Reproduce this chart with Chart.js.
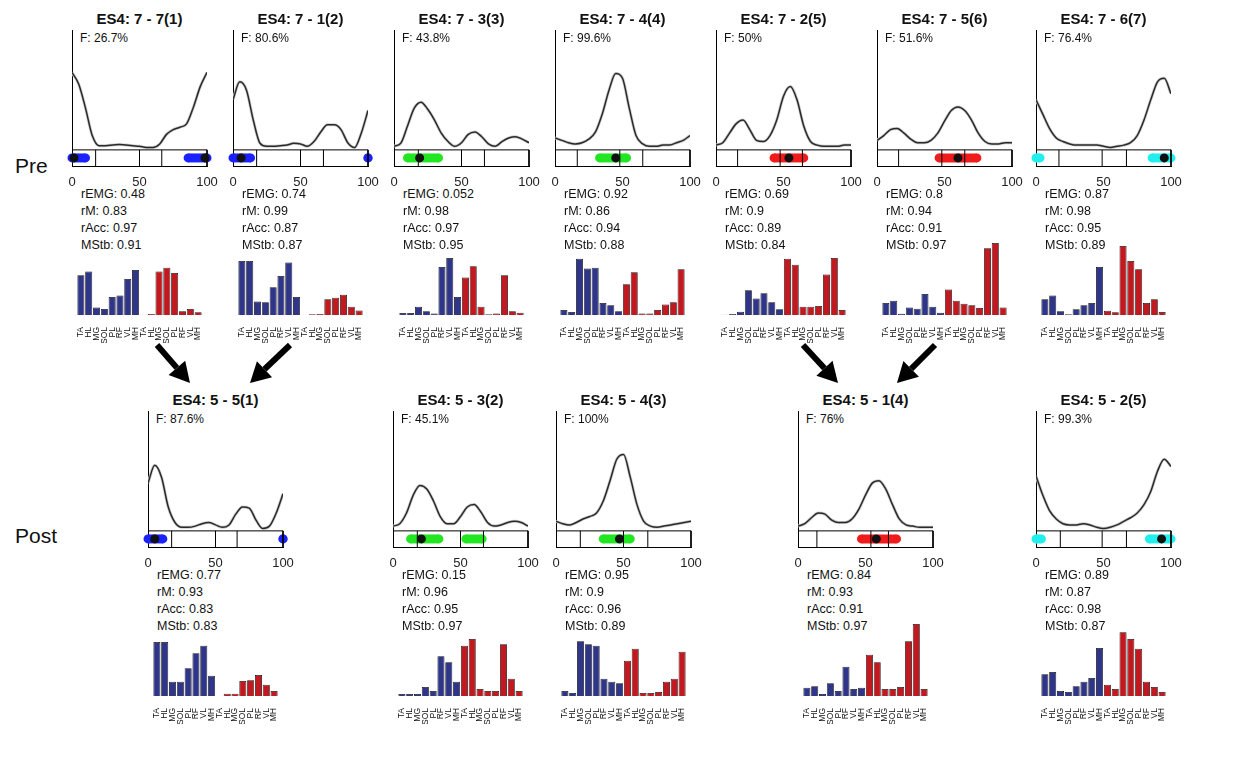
<!DOCTYPE html>
<html>
<head>
<meta charset="utf-8">
<script src="https://cdn.jsdelivr.net/npm/chart.js@4.4.1/dist/chart.umd.min.js"></script>
<style>
  body { margin: 0; background: #fff; width: 1255px; height: 782px; position: relative; overflow: hidden;
         font-family: "Liberation Sans", Arial, sans-serif; color: #111; }
  .box { position: absolute; }
  .txt { position: absolute; white-space: nowrap; font-size: 12.5px; line-height: 17px; }
  .ttl { position: absolute; white-space: nowrap; font-size: 15px; font-weight: bold; text-align: center; line-height: 18px; }
  .row { position: absolute; font-size: 21px; line-height: 24px; }
</style>
</head>
<body>
<svg id="arrows" width="1255" height="782" style="position:absolute;left:0;top:0"></svg>
<script>
// --- data ---
const phase = [0, 5, 10, 15, 20, 25, 30, 35, 40, 45, 50, 55, 60, 65, 70, 75, 80, 85, 90, 95, 100];
const muscles = ['TA', 'HL', 'MG', 'SOL', 'PL', 'RF', 'VL', 'MH'];
const barLabels = muscles.concat(muscles);

const titles = ['ES4: 7 - 7(1)', 'ES4: 7 - 1(2)', 'ES4: 7 - 3(3)', 'ES4: 7 - 4(4)', 'ES4: 7 - 2(5)', 'ES4: 7 - 5(6)', 'ES4: 7 - 6(7)',
                'ES4: 5 - 5(1)', 'ES4: 5 - 3(2)', 'ES4: 5 - 4(3)', 'ES4: 5 - 1(4)', 'ES4: 5 - 2(5)'];
const fValues = ['26.7%', '80.6%', '43.8%', '99.6%', '50%', '51.6%', '76.4%', '87.6%', '45.1%', '100%', '76%', '99.3%'];
const rEMG = ['0.48', '0.74', '0.052', '0.92', '0.69', '0.8', '0.87', '0.77', '0.15', '0.95', '0.84', '0.89'];
const rM   = ['0.83', '0.99', '0.98', '0.86', '0.9', '0.94', '0.98', '0.93', '0.96', '0.9', '0.93', '0.87'];
const rAcc = ['0.97', '0.87', '0.97', '0.94', '0.89', '0.91', '0.95', '0.83', '0.95', '0.96', '0.91', '0.98'];
const MStb = ['0.91', '0.87', '0.95', '0.88', '0.84', '0.97', '0.89', '0.83', '0.97', '0.89', '0.97', '0.87'];

// activation curves (normalised), sampled on phase
const curvePre1 = [0.65, 0.55, 0.35, 0.12, 0.035, 0.035, 0.04, 0.045, 0.04, 0.035, 0.03, 0.02, 0.02, 0.05, 0.13, 0.17, 0.19, 0.22, 0.36, 0.53, 0.65];
const curvePre2 = [0.42, 0.57, 0.5, 0.25, 0.055, 0.03, 0.03, 0.035, 0.04, 0.055, 0.05, 0.03, 0.07, 0.15, 0.21, 0.21, 0.17, 0.06, 0.02, 0.14, 0.33];
const curvePre3 = [0.03, 0.055, 0.2, 0.35, 0.4, 0.34, 0.25, 0.14, 0.07, 0.03, 0.06, 0.13, 0.15, 0.11, 0.05, 0.03, 0.07, 0.1, 0.11, 0.09, 0.06];
const curvePre4 = [0.1, 0.08, 0.06, 0.05, 0.06, 0.09, 0.15, 0.3, 0.5, 0.64, 0.6, 0.35, 0.12, 0.05, 0.03, 0.03, 0.04, 0.04, 0.06, 0.08, 0.12];
const curvePre5 = [0.04, 0.06, 0.14, 0.22, 0.25, 0.17, 0.08, 0.07, 0.12, 0.25, 0.45, 0.53, 0.42, 0.2, 0.07, 0.04, 0.03, 0.03, 0.03, 0.04, 0.04];
const curvePre6 = [0.08, 0.12, 0.17, 0.18, 0.14, 0.09, 0.06, 0.06, 0.08, 0.14, 0.24, 0.33, 0.36, 0.33, 0.25, 0.14, 0.07, 0.05, 0.05, 0.06, 0.06];
const curvePre7 = [0.42, 0.3, 0.18, 0.1, 0.07, 0.05, 0.04, 0.04, 0.04, 0.04, 0.03, 0.02, 0.03, 0.04, 0.06, 0.12, 0.25, 0.42, 0.57, 0.6, 0.47];
const curvePost1 = [0.4, 0.55, 0.45, 0.2, 0.07, 0.03, 0.03, 0.04, 0.06, 0.07, 0.05, 0.03, 0.05, 0.14, 0.2, 0.19, 0.09, 0.02, 0.04, 0.15, 0.31];
const curvePost2 = [0.04, 0.06, 0.15, 0.3, 0.38, 0.35, 0.25, 0.12, 0.06, 0.06, 0.12, 0.2, 0.22, 0.16, 0.07, 0.04, 0.05, 0.07, 0.08, 0.07, 0.04];
const curvePost3 = [0.08, 0.06, 0.05, 0.07, 0.1, 0.12, 0.15, 0.25, 0.42, 0.6, 0.64, 0.45, 0.22, 0.08, 0.04, 0.03, 0.04, 0.05, 0.06, 0.07, 0.08];
const curvePost4 = [0.04, 0.06, 0.11, 0.15, 0.14, 0.09, 0.07, 0.07, 0.1, 0.18, 0.3, 0.4, 0.42, 0.35, 0.22, 0.1, 0.05, 0.04, 0.03, 0.03, 0.03];
const curvePost5 = [0.46, 0.3, 0.17, 0.1, 0.06, 0.05, 0.05, 0.06, 0.05, 0.03, 0.02, 0.03, 0.05, 0.08, 0.11, 0.15, 0.22, 0.33, 0.5, 0.6, 0.54];
const curves = [curvePre1, curvePre2, curvePre3, curvePre4, curvePre5, curvePre6, curvePre7,
                curvePost1, curvePost2, curvePost3, curvePost4, curvePost5];

// muscle weights (8 blue, 8 red)
const barsPre1 = [0.53, 0.58, 0.10, 0.08, 0.24, 0.26, 0.48, 0.60, 0.004, 0.013, 0.58, 0.63, 0.56, 0.05, 0.08, 0.036];
const barsPre2 = [0.72, 0.72, 0.18, 0.17, 0.37, 0.52, 0.70, 0.24, 0.0, 0.01, 0.013, 0.21, 0.23, 0.27, 0.11, 0.06];
const barsPre3 = [0.027, 0.027, 0.11, 0.05, 0.02, 0.64, 0.76, 0.24, 0.5, 0.65, 0.11, 0.01, 0.02, 0.53, 0.05, 0.03];
const barsPre4 = [0.067, 0.04, 0.75, 0.62, 0.63, 0.16, 0.13, 0.05, 0.41, 0.57, 0.02, 0.02, 0.067, 0.14, 0.17, 0.61];
const barsPre5 = [0.005, 0.013, 0.044, 0.33, 0.22, 0.29, 0.17, 0.076, 0.75, 0.67, 0.11, 0.11, 0.12, 0.54, 0.76, 0.067];
const barsPre6 = [0.16, 0.19, 0.018, 0.1, 0.084, 0.28, 0.11, 0.03, 0.34, 0.19, 0.15, 0.13, 0.093, 0.89, 0.96, 0.1];
const barsPre7 = [0.21, 0.26, 0.05, 0.01, 0.076, 0.13, 0.16, 0.64, 0.057, 0.036, 0.92, 0.72, 0.61, 0.16, 0.21, 0.04];
const barsPost1 = [0.72, 0.72, 0.19, 0.19, 0.37, 0.57, 0.67, 0.27, 0.0, 0.03, 0.03, 0.2, 0.21, 0.28, 0.15, 0.067];
const barsPost2 = [0.027, 0.027, 0.027, 0.12, 0.067, 0.53, 0.45, 0.19, 0.67, 0.76, 0.093, 0.067, 0.067, 0.69, 0.23, 0.067];
const barsPost3 = [0.067, 0.04, 0.73, 0.69, 0.67, 0.23, 0.19, 0.17, 0.47, 0.63, 0.04, 0.04, 0.053, 0.19, 0.23, 0.59];
const barsPost4 = [0.11, 0.13, 0.027, 0.17, 0.067, 0.39, 0.093, 0.11, 0.55, 0.45, 0.093, 0.093, 0.12, 0.73, 0.96, 0.093];
const barsPost5 = [0.29, 0.32, 0.067, 0.053, 0.13, 0.19, 0.24, 0.64, 0.15, 0.093, 0.85, 0.76, 0.63, 0.19, 0.12, 0.053];
const bars = [barsPre1, barsPre2, barsPre3, barsPre4, barsPre5, barsPre6, barsPre7,
              barsPost1, barsPost2, barsPost3, barsPost4, barsPost5];

// gait-phase strip: boundary lines, cluster bands, cluster means
const phaseLines = [[17.5, 50, 66.5], [17.5, 50, 67], [18, 50, 67], [16.5, 48, 65], [16, 47.5, 64], [16, 48, 65], [17, 49, 67],
                    [17.5, 50, 66], [18, 50, 67], [18, 50, 68], [14, 54, 67], [18, 49, 67]];
const bandColors = ['#1a22ff', '#1a22ff', '#22e622', '#22e622', '#f01c1c', '#f01c1c', '#22eeee',
                    '#1a22ff', '#22e622', '#22e622', '#f01c1c', '#22eeee'];
const bands = [[[0, 10], [86, 100]], [[0, 13], [100, 100]], [[10, 33]], [[33, 53]], [[43, 65]], [[46, 74]], [[0, 3], [86, 100]],
               [[0, 11], [100, 100]], [[13, 34], [54, 66]], [[35, 55]], [[47, 73]], [[0, 4], [84, 100]]];
const means = [[1.5, 98.5], [6], [19], [45], [54], [60], [95], [5], [21], [47], [58], [93]];

// --- layout ---
const lefts = [72, 233, 394, 555, 716, 877, 1036, 148, 393, 556, 798, 1036];
const tops = [30, 30, 30, 30, 30, 30, 30, 411, 411, 411, 411, 411];
const W = 135, H = 136, yMin = -0.135;
const blue = '#2f3589', red = '#c1191f';

function addDiv(cls, txt, css) {
  const d = document.createElement('div');
  d.className = cls; d.textContent = txt;
  Object.assign(d.style, css);
  document.body.appendChild(d);
  return d;
}
function addCanvas(left, top, w, h) {
  const box = addDiv('box', '', { left: left + 'px', top: top + 'px', width: w + 'px', height: h + 'px' });
  const c = document.createElement('canvas');
  box.appendChild(c);
  return c;
}

addDiv('row', 'Pre', { left: '15px', top: '154px' });
addDiv('row', 'Post', { left: '15px', top: '524px' });

titles.forEach((title, i) => {
  const L = lefts[i], T = tops[i];
  addDiv('ttl', title, { left: (L - 30) + 'px', top: (T - 20) + 'px', width: (W + 60) + 'px' });
  addDiv('txt', 'F: ' + fValues[i], { left: (L + 8) + 'px', top: (T + 0) + 'px', fontSize: '12px' });
  const stats = ['rEMG: ' + rEMG[i], 'rM: ' + rM[i], 'rAcc: ' + rAcc[i], 'MStb: ' + MStb[i]];
  stats.forEach((s, k) => addDiv('txt', s, { left: (L + 9) + 'px', top: (T + 156 + k * 17) + 'px' }));

  // activation curve + phase strip
  const mid = yMin / 2;
  const datasets = [];
  datasets.push({ data: means[i].map(m => ({ x: m, y: mid })), showLine: false, pointRadius: 4.5,
                  pointBackgroundColor: '#111', pointBorderWidth: 0, order: 0, clip: false });
  phaseLines[i].forEach(p => datasets.push({ data: [{ x: p, y: yMin }, { x: p, y: 0 }], borderColor: '#000',
                  borderWidth: 1, pointRadius: 0, order: 1 }));
  datasets.push({ data: [{ x: 0, y: 0 }, { x: 100, y: 0 }, { x: 100, y: yMin }], borderColor: '#000',
                  borderWidth: 1, pointRadius: 0, order: 1, clip: false });
  bands[i].forEach(b => datasets.push({ data: [{ x: b[0], y: mid }, { x: b[1], y: mid }], borderColor: bandColors[i],
                  borderWidth: 9, pointRadius: 4.5, pointBackgroundColor: bandColors[i], pointBorderWidth: 0,
                  order: 2, clip: false }));
  const pts = curves[i].map((v, k) => ({ x: phase[k], y: v }));
  datasets.push({ data: pts, borderColor: '#2a2a2a', borderWidth: 1.5, pointRadius: 0, cubicInterpolationMode: 'monotone', order: 3 });
  datasets.push({ data: pts, borderColor: '#cdcdcd', borderWidth: 3, pointRadius: 0, cubicInterpolationMode: 'monotone', order: 4 });

  new Chart(addCanvas(L - 16, T - 4, W + 32, 4 + H + 22), {
    type: 'line',
    data: { datasets },
    options: {
      responsive: true, maintainAspectRatio: false, animation: false,
      layout: { padding: { left: 16, right: 16, top: 4, bottom: 0 } },
      plugins: { legend: { display: false }, tooltip: { enabled: false } },
      scales: {
        x: { type: 'linear', min: 0, max: 100,
             ticks: { stepSize: 50, padding: 1, color: '#222', font: { size: 13, family: 'Liberation Sans' } },
             grid: { display: false }, border: { display: true, color: '#000', width: 1 },
             afterFit: s => { s.height = 22; s.paddingLeft = 0; s.paddingRight = 0; } },
        y: { min: yMin, max: 1, ticks: { display: false }, grid: { display: false },
             border: { display: true, color: '#000', width: 1 },
             afterFit: s => { s.width = 0; } }
      }
    }
  });

  // muscle weights
  new Chart(addCanvas(L + 4.5, T + 210, 125, 75 + 28), {
    type: 'bar',
    data: {
      labels: barLabels,
      datasets: [{ data: bars[i], backgroundColor: barLabels.map((m, k) => k < 8 ? blue : red),
                   borderColor: '#111', borderWidth: 0.8, borderSkipped: 'bottom',
                   categoryPercentage: 1, barPercentage: 0.9 }]
    },
    options: {
      responsive: true, maintainAspectRatio: false, animation: false,
      layout: { padding: 0 },
      plugins: { legend: { display: false }, tooltip: { enabled: false } },
      scales: {
        x: { ticks: { autoSkip: false, minRotation: 90, maxRotation: 90, padding: 4, color: '#111',
                      font: { size: 8.5, family: 'Liberation Sans' } },
             grid: { display: false }, border: { display: false },
             afterFit: s => { s.height = 28; s.paddingLeft = 0; s.paddingRight = 0; } },
        y: { display: false, min: 0, max: 1 }
      }
    }
  });
});

// arrows between the pre and post rows
const arrows = [[157, 345, 190, 383], [290, 345, 250, 383], [803, 345, 838, 383], [935, 345, 897, 383]];
const svg = document.getElementById('arrows');
arrows.forEach(([x1, y1, x2, y2]) => {
  const dx = x2 - x1, dy = y2 - y1, len = Math.hypot(dx, dy);
  const ux = dx / len, uy = dy / len, hl = 20, hw = 11;
  const bx = x2 - ux * hl, by = y2 - uy * hl;
  const line = document.createElementNS('http://www.w3.org/2000/svg', 'line');
  line.setAttribute('x1', x1); line.setAttribute('y1', y1);
  line.setAttribute('x2', bx); line.setAttribute('y2', by);
  line.setAttribute('stroke', '#000'); line.setAttribute('stroke-width', 6);
  svg.appendChild(line);
  const head = document.createElementNS('http://www.w3.org/2000/svg', 'polygon');
  head.setAttribute('points', `${x2},${y2} ${bx - uy * hw},${by + ux * hw} ${bx + uy * hw},${by - ux * hw}`);
  head.setAttribute('fill', '#000');
  svg.appendChild(head);
});
</script>
</body>
</html>
